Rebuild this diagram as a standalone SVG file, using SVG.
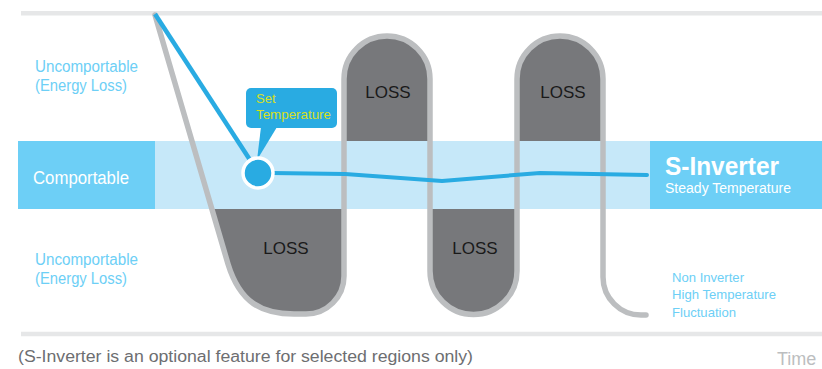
<svg xmlns="http://www.w3.org/2000/svg" width="822" height="369" viewBox="0 0 822 369">
<style>
.lbl{font-family:"Liberation Sans",Arial,sans-serif;fill:#6dcff6}
.loss{font-family:"Liberation Sans",Arial,sans-serif;font-size:17px;fill:#1a1a1a;text-anchor:middle}
.fill{fill:#77787b}
.axis{stroke:#e6e7e8;stroke-width:4.5}
</style>
<rect width="822" height="369" fill="#ffffff"/>
<g id="axes">
<line class="axis" x1="21" y1="13.3" x2="822" y2="13.3"/>
<line class="axis" x1="21" y1="334" x2="822" y2="334"/>
</g>
<g id="loss-fills">
<path class="fill" d="M212,209 L228,264 C240,303 262,314 294,314 L306,314 A38,38 0 0 0 344,276 L344,209 Z"/>
<path class="fill" d="M344,141 L344,79 A43,43 0 0 1 430,79 L430,141 Z"/>
<path class="fill" d="M430,209 L430,271 A43.5,43.5 0 0 0 517,271 L517,209 Z"/>
<path class="fill" d="M517,141 L517,79 A43,43 0 0 1 603,79 L603,141 Z"/>
</g>
<g id="band">
<rect x="155" y="141" width="495" height="68" fill="#c6e8f9"/>
</g>
<g id="comportable">
<rect x="18" y="141" width="137" height="68" fill="#6dcff6"/>
<text x="33" y="184" font-family="'Liberation Sans',Arial,sans-serif" font-size="18" fill="#ffffff" textLength="96" lengthAdjust="spacingAndGlyphs">Comportable</text>
</g>
<g id="s-inverter">
<rect x="650" y="141" width="172" height="68" fill="#6dcff6"/>
<text x="665" y="175" font-family="'Liberation Sans',Arial,sans-serif" font-size="26" font-weight="bold" fill="#ffffff" textLength="114" lengthAdjust="spacingAndGlyphs">S-Inverter</text>
<text x="665" y="193" font-family="'Liberation Sans',Arial,sans-serif" font-size="14" fill="#ffffff" textLength="126" lengthAdjust="spacingAndGlyphs">Steady Temperature</text>
</g>
<g id="connectors">
<path d="M155,15 L228,264 C240,303 262,314 294,314 L306,314 A38,38 0 0 0 344,276 L344,79 A43,43 0 0 1 430,79 L430,271 A43.5,43.5 0 0 0 517,271 L517,79 A43,43 0 0 1 603,79 L603,277 A38,38 0 0 0 641,315 L646,315" fill="none" stroke="#bcbec0" stroke-width="5.5" stroke-linecap="round" stroke-linejoin="round"/>
<line x1="155" y1="14" x2="252" y2="163" stroke="#29abe2" stroke-width="4.5"/>
<path d="M272,173 L345,174 L442,181 L540,173 L647,175" fill="none" stroke="#29abe2" stroke-width="4" stroke-linecap="round" stroke-linejoin="round"/>
</g>
<g id="set-temperature">
<rect x="246" y="88" width="91" height="40" rx="5" fill="#29abe2"/>
<polygon points="261,127 277,127 257,160" fill="#29abe2"/>
<circle cx="258" cy="173" r="15" fill="#29abe2" stroke="#ffffff" stroke-width="3.5"/>
<text x="256" y="103" font-family="'Liberation Sans',Arial,sans-serif" font-size="13" fill="#d7df23">Set</text>
<text x="256" y="119" font-family="'Liberation Sans',Arial,sans-serif" font-size="13" fill="#d7df23" textLength="75" lengthAdjust="spacingAndGlyphs">Temperature</text>
</g>
<g id="loss1"><text class="loss" x="286" y="254">LOSS</text></g>
<g id="loss2"><text class="loss" x="388" y="98">LOSS</text></g>
<g id="loss3"><text class="loss" x="475" y="254">LOSS</text></g>
<g id="loss4"><text class="loss" x="563" y="98">LOSS</text></g>
<g id="labels-top">
<text class="lbl" x="35" y="72" font-size="16" textLength="103" lengthAdjust="spacingAndGlyphs">Uncomportable</text>
<text class="lbl" x="35" y="91" font-size="16" textLength="92" lengthAdjust="spacingAndGlyphs">(Energy Loss)</text>
</g>
<g id="labels-bottom">
<text class="lbl" x="35" y="265" font-size="16" textLength="103" lengthAdjust="spacingAndGlyphs">Uncomportable</text>
<text class="lbl" x="35" y="284" font-size="16" textLength="92" lengthAdjust="spacingAndGlyphs">(Energy Loss)</text>
</g>
<g id="non-inverter">
<text class="lbl" x="672" y="282" font-size="13" textLength="72" lengthAdjust="spacingAndGlyphs">Non Inverter</text>
<text class="lbl" x="672" y="299" font-size="13" textLength="104" lengthAdjust="spacingAndGlyphs">High Temperature</text>
<text class="lbl" x="672" y="317" font-size="13" textLength="64" lengthAdjust="spacingAndGlyphs">Fluctuation</text>
</g>
<g id="footer">
<text x="18" y="362" font-family="'Liberation Sans',Arial,sans-serif" font-size="16" fill="#6d6e71" textLength="455" lengthAdjust="spacingAndGlyphs">(S-Inverter is an optional feature for selected regions only)</text>
<text x="777" y="365" font-family="'Liberation Sans',Arial,sans-serif" font-size="18" fill="#bcbec0">Time</text>
</g>
</svg>
